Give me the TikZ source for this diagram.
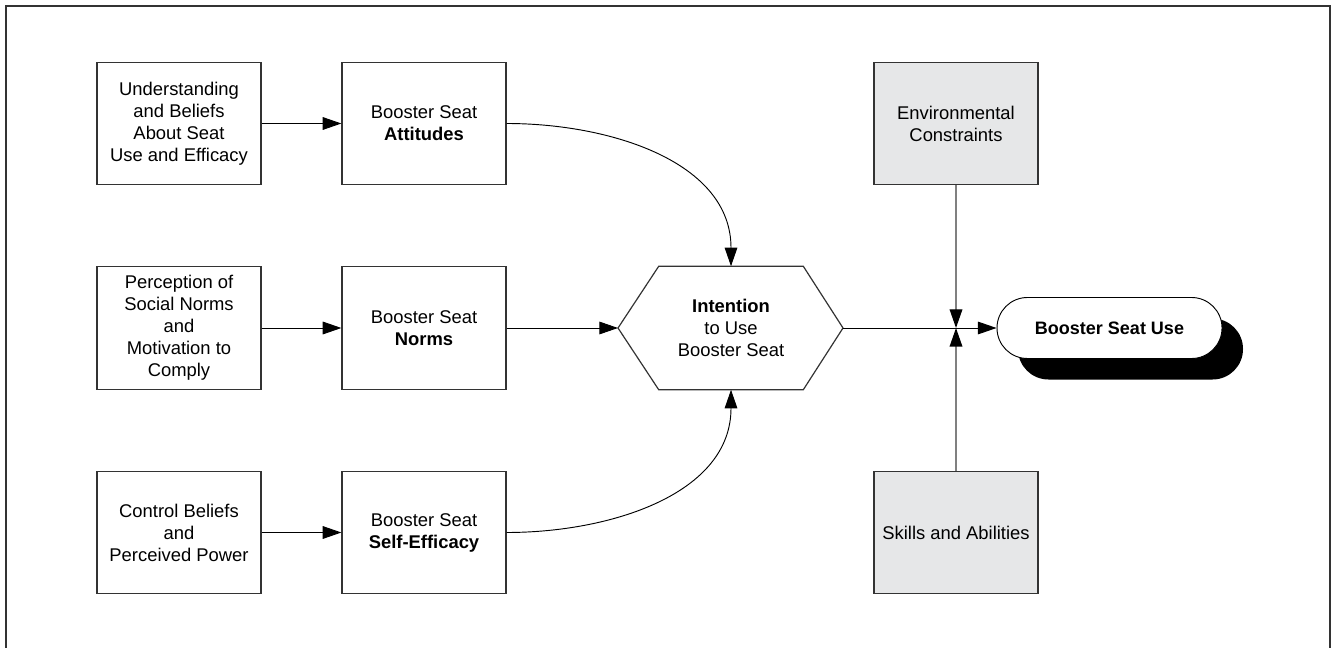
\documentclass[tikz,border=0pt]{standalone}
\usepackage{fontspec}
\setmainfont[Ligatures={TeX,NoCommon}]{Liberation Sans}
\usetikzlibrary{arrows.meta,shadows}
\definecolor{boxgray}{HTML}{E6E7E8}
\definecolor{linegray}{HTML}{333333}

\begin{document}
\begin{tikzpicture}[
    x=0.75pt, y=-0.75pt,
    font=\fontsize{13.8}{16.5}\selectfont,
    box/.style={rectangle, draw=linegray, line width=0.9pt, fill=white,
        minimum width=123pt, minimum height=92pt, align=center, inner sep=2pt},
    graybox/.style={box, fill=boxgray},
    link/.style={line width=0.7pt, -{Triangle[length=14pt, width=9.5pt, color=black]}}
]
    \path[use as bounding box] (0,0) rectangle (1334,648);
    \draw[line width=1.2pt, linegray] (6,648) -- (6,6) -- (1330,6) -- (1330,648);

    % left column
    \node[box] (und) at (179,123.5) {Understanding\\and Beliefs\\About Seat\\Use and Efficacy};
    \node[box] (perc) at (179,328) {Perception of\\Social Norms\\and\\Motivation to\\Comply};
    \node[box] (ctrl) at (179,532.5) {Control Beliefs\\and\\Perceived Power};

    % middle column
    \node[box] (att) at (424,123.5) {Booster Seat\\\textbf{Attitudes}};
    \node[box] (norms) at (424,328) {Booster Seat\\\textbf{Norms}};
    \node[box] (eff) at (424,532.5) {Booster Seat\\\textbf{Self-Efficacy}};

    % hexagon
    \node[minimum width=108pt, minimum height=92.25pt, align=center, inner sep=0pt]
        (intent) at (731,328) {\textbf{Intention}\\to Use\\Booster Seat};
    \coordinate (intentW) at (618,328);
    \coordinate (intentE) at (843,328);
    \draw[linegray, line width=0.9pt] (intentW) -- (intent.north west) -- (intent.north east)
        -- (intentE) -- (intent.south east) -- (intent.south west) -- cycle;

    % right column
    \node[graybox] (env) at (956,123.5) {Environmental\\Constraints};
    \node[graybox] (skills) at (956,532.5) {Skills and Abilities};
    \coordinate (join) at (956,328);

    \node[rectangle, draw=black, line width=0.7pt, fill=white, rounded corners=22.8pt,
        minimum width=168.75pt, minimum height=45.75pt, font=\fontsize{13.5}{16}\selectfont\bfseries,
        drop shadow={shadow xshift=15.75pt, shadow yshift=-15.75pt, fill=black, opacity=1}]
        (use) at (1109.5,328) {Booster Seat Use};

    % connectors
    \draw[link] (und) -- (att);
    \draw[link] (perc) -- (norms);
    \draw[link] (ctrl) -- (eff);
    \draw[link] (norms) -- (intentW);
    \draw[link] (att.east) to[out=0, in=90] (intent.north);
    \draw[link] (eff.east) to[out=0, in=-90] (intent.south);
    \draw[link] (intentE) -- (use.west);
    \draw[link, line width=1pt, draw=gray] (env) -- (join);
    \draw[link, line width=1pt, draw=gray] (skills) -- (join);
\end{tikzpicture}
\end{document}
